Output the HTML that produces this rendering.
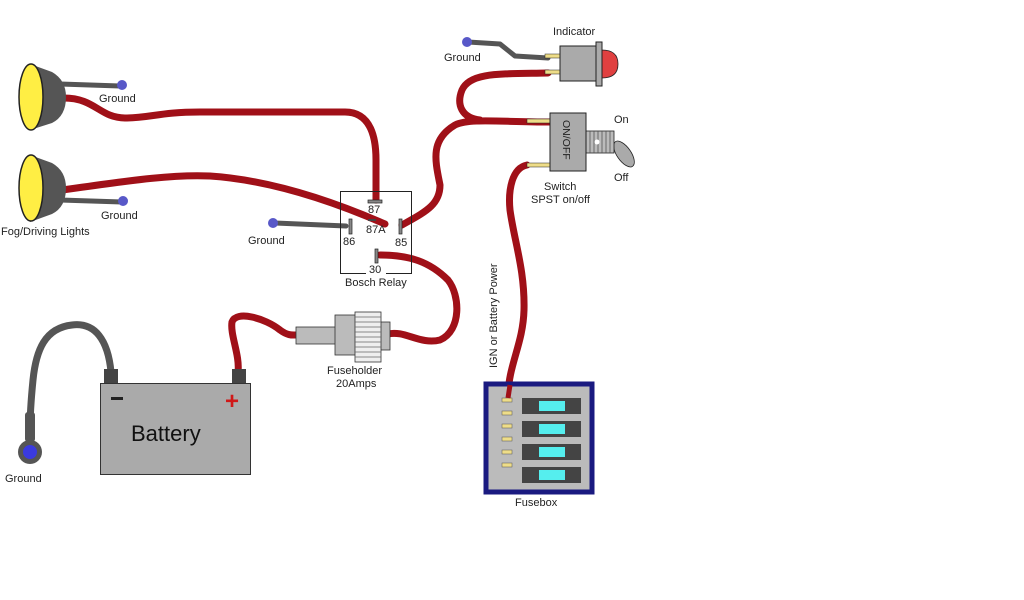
<!DOCTYPE html>
<html><head><meta charset="utf-8"><style>
html,body{margin:0;padding:0;background:#fff;}
svg{display:block;}
text{font-family:"Liberation Sans","DejaVu Sans",sans-serif;font-size:11px;fill:#222;}
</style></head><body>
<svg width="1024" height="600" viewBox="0 0 1024 600" xmlns="http://www.w3.org/2000/svg">
<g fill="none" stroke-linecap="round" stroke-linejoin="round">
<path d="M60 84 L120 86" stroke="#555" stroke-width="5"/>
<path d="M60 200 L122 202" stroke="#555" stroke-width="5"/>
<path d="M275 223 L346 226" stroke="#555" stroke-width="5"/>
<path d="M468 42 L500 44 L515 56 L548 58" stroke="#555" stroke-width="5"/>
<path d="M111 372 C108 340 95 322 72 325 C45 328 36 350 33 380 C31 400 30 415 30 430" stroke="#555" stroke-width="7"/>
<g stroke="#a01018" stroke-width="7">
<path d="M64 98 C95 98 100 118 125 118 C150 118 160 112 200 112 L345 112 C372 112 376 140 376 160 L376 200"/>
<path d="M62 190 C120 182 170 174 210 176 C270 180 330 200 385 224"/>
<path d="M402 225 C425 212 440 205 440 185 C435 160 430 140 455 125 C470 118 500 122 550 122"/>
<path d="M548 73 C500 74 470 72 462 90 C456 105 462 118 480 120"/>
<path d="M380 255 C410 255 430 262 448 280 C460 295 462 330 440 340 C420 345 405 330 388 334"/>
<path d="M238 372 C240 355 230 335 232 322 C236 310 265 318 280 330 C288 336 293 335 296 335"/>
<path d="M527 165 C512 168 508 190 510 210 C514 240 525 270 524 310 C523 345 508 365 508 398"/>
</g>
</g>
<path d="M30 64 L52 72 Q66 80 66 97 Q66 116 52 123 L30 130 Z" fill="#555"/>
<ellipse cx="31" cy="97" rx="12" ry="33" fill="#ffee44" stroke="#222" stroke-width="1.5"/>
<path d="M30 155 L52 163 Q66 171 66 188 Q66 207 52 214 L30 222 Z" fill="#555"/>
<ellipse cx="31" cy="188" rx="12" ry="33" fill="#ffee44" stroke="#222" stroke-width="1.5"/>
<circle cx="122" cy="85" r="5" fill="#5858c8"/>
<circle cx="123" cy="201" r="5" fill="#5858c8"/>
<circle cx="273" cy="223" r="5" fill="#5858c8"/>
<circle cx="467" cy="42" r="5" fill="#5858c8"/>
<text x="99" y="102">Ground</text>
<text x="101" y="219">Ground</text>
<text x="1" y="235">Fog/Driving Lights</text>
<text x="248" y="244">Ground</text>
<text x="444" y="61">Ground</text>
<rect x="340.5" y="191.5" width="71" height="82" fill="none" stroke="#222" stroke-width="1"/>
<rect x="368" y="200" width="14" height="3" fill="#888" stroke="#222" stroke-width="0.7"/>
<rect x="349" y="219" width="3" height="15" fill="#888" stroke="#222" stroke-width="0.7"/>
<rect x="399" y="219" width="3" height="15" fill="#888" stroke="#222" stroke-width="0.7"/>
<rect x="375" y="249" width="3" height="14" fill="#888" stroke="#222" stroke-width="0.7"/>
<rect x="368" y="219" width="8" height="2" fill="#444"/>
<rect x="366" y="267" width="20" height="8" fill="#fff"/>
<text x="368" y="213">87</text>
<text x="366" y="233">87A</text>
<text x="343" y="245">86</text>
<text x="395" y="246">85</text>
<text x="369" y="273">30</text>
<text x="345" y="286">Bosch Relay</text>
<rect x="545" y="54" width="16" height="4" fill="#eedd88" stroke="#222" stroke-width="0.5"/>
<rect x="545" y="70" width="16" height="4" fill="#eedd88" stroke="#222" stroke-width="0.5"/>
<path d="M602 50 Q618 50 618 64 Q618 78 602 78 Z" fill="#e04040" stroke="#222" stroke-width="0.8"/>
<rect x="560" y="46" width="36" height="35" fill="#aaa" stroke="#222" stroke-width="1"/>
<rect x="596" y="42" width="6" height="44" fill="#aaa" stroke="#222" stroke-width="1"/>
<text x="553" y="35">Indicator</text>
<rect x="527" y="119" width="24" height="4" fill="#eedd88" stroke="#222" stroke-width="0.5"/>
<rect x="527" y="163" width="24" height="4" fill="#eedd88" stroke="#222" stroke-width="0.5"/>
<ellipse cx="624" cy="154" rx="7" ry="15" transform="rotate(-35 624 154)" fill="#aaa" stroke="#222" stroke-width="0.8"/>
<rect x="586" y="131" width="28" height="22" fill="#bbb" stroke="#222" stroke-width="0.8"/>
<g stroke="#555" stroke-width="0.8">
<line x1="590" y1="131" x2="590" y2="153"/><line x1="594" y1="131" x2="594" y2="153"/><line x1="598" y1="131" x2="598" y2="153"/><line x1="602" y1="131" x2="602" y2="153"/><line x1="606" y1="131" x2="606" y2="153"/><line x1="610" y1="131" x2="610" y2="153"/>
</g>
<circle cx="597" cy="142" r="2.5" fill="#fff"/>
<rect x="550" y="113" width="36" height="58" fill="#aaa" stroke="#222" stroke-width="1"/>
<text x="563" y="120" transform="rotate(90 563 120)" style="font-size:10.5px">ON/OFF</text>
<text x="614" y="123">On</text>
<text x="614" y="181">Off</text>
<text x="544" y="190">Switch</text>
<text x="531" y="203">SPST on/off</text>
<rect x="296" y="327" width="40" height="17" fill="#bbb" stroke="#333" stroke-width="0.8"/>
<rect x="335" y="315" width="21" height="40" fill="#bbb" stroke="#333" stroke-width="0.8"/>
<rect x="380" y="322" width="10" height="28" fill="#bbb" stroke="#333" stroke-width="0.8"/>
<rect x="355" y="312" width="26" height="50" fill="#eee" stroke="#333" stroke-width="0.8"/>
<g stroke="#666" stroke-width="0.8">
<line x1="355" y1="317" x2="381" y2="317"/><line x1="355" y1="322" x2="381" y2="322"/><line x1="355" y1="327" x2="381" y2="327"/><line x1="355" y1="332" x2="381" y2="332"/><line x1="355" y1="337" x2="381" y2="337"/><line x1="355" y1="342" x2="381" y2="342"/><line x1="355" y1="347" x2="381" y2="347"/><line x1="355" y1="352" x2="381" y2="352"/><line x1="355" y1="357" x2="381" y2="357"/>
</g>
<text x="327" y="374">Fuseholder</text>
<text x="336" y="387">20Amps</text>
<rect x="104" y="369" width="14" height="15" fill="#444"/>
<rect x="232" y="369" width="14" height="15" fill="#444"/>
<rect x="100.5" y="383.5" width="150" height="91" fill="#aaa" stroke="#333" stroke-width="1"/>
<rect x="111" y="397" width="12" height="3" fill="#222"/>
<text x="225" y="409" style="font-size:24px;font-weight:bold;fill:#d01818">+</text>
<text x="131" y="441" style="font-size:22px;fill:#111">Battery</text>
<rect x="25" y="412" width="10" height="30" rx="3" fill="#555"/>
<circle cx="30" cy="452" r="12" fill="#555"/>
<circle cx="30" cy="452" r="7" fill="#3a3ae0"/>
<text x="5" y="482">Ground</text>
<rect x="486" y="384" width="106" height="108" fill="#bbb" stroke="#1a1a80" stroke-width="5"/>
<g fill="#eedd88" stroke="#555" stroke-width="0.5">
<rect x="502" y="398" width="10" height="4"/><rect x="502" y="411" width="10" height="4"/><rect x="502" y="424" width="10" height="4"/><rect x="502" y="437" width="10" height="4"/><rect x="502" y="450" width="10" height="4"/><rect x="502" y="463" width="10" height="4"/>
</g>
<g>
<rect x="522" y="398" width="59" height="16" fill="#444"/><rect x="539" y="401" width="26" height="10" fill="#55eeee"/>
<rect x="522" y="421" width="59" height="16" fill="#444"/><rect x="539" y="424" width="26" height="10" fill="#55eeee"/>
<rect x="522" y="444" width="59" height="16" fill="#444"/><rect x="539" y="447" width="26" height="10" fill="#55eeee"/>
<rect x="522" y="467" width="59" height="16" fill="#444"/><rect x="539" y="470" width="26" height="10" fill="#55eeee"/>
</g>
<path d="M508 398 L510 385" stroke="#a01018" stroke-width="5"/>
<text x="515" y="506">Fusebox</text>
<text x="497" y="368" transform="rotate(-90 497 368)">IGN or Battery Power</text>
</svg>
</body></html>
